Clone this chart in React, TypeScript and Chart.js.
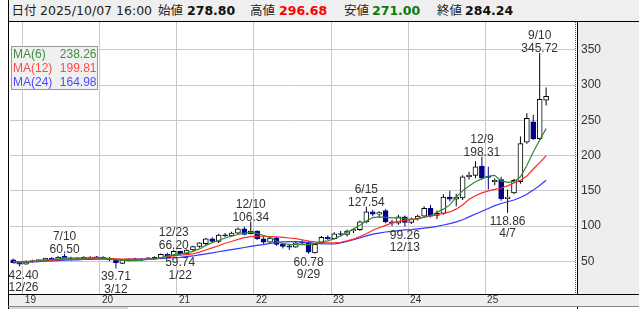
import React, { useEffect, useRef } from 'react';
import { Chart, registerables } from 'chart.js';

Chart.register(...registerables);

// ---- categories (monthly candles) ----
const months: string[] = [
  '2018/11', '2018/12',
  '2019/01', '2019/02', '2019/03', '2019/04', '2019/05', '2019/06', '2019/07', '2019/08', '2019/09', '2019/10', '2019/11', '2019/12',
  '2020/01', '2020/02', '2020/03', '2020/04', '2020/05', '2020/06', '2020/07', '2020/08', '2020/09', '2020/10', '2020/11', '2020/12',
  '2021/01', '2021/02', '2021/03', '2021/04', '2021/05', '2021/06', '2021/07', '2021/08', '2021/09', '2021/10', '2021/11', '2021/12',
  '2022/01', '2022/02', '2022/03', '2022/04', '2022/05', '2022/06', '2022/07', '2022/08', '2022/09', '2022/10', '2022/11', '2022/12',
  '2023/01', '2023/02', '2023/03', '2023/04', '2023/05', '2023/06', '2023/07', '2023/08', '2023/09', '2023/10', '2023/11', '2023/12',
  '2024/01', '2024/02', '2024/03', '2024/04', '2024/05', '2024/06', '2024/07', '2024/08', '2024/09', '2024/10', '2024/11', '2024/12',
  '2025/01', '2025/02', '2025/03', '2025/04', '2025/05', '2025/06', '2025/07', '2025/08', '2025/09', '2025/10',
];
const emptySlots = ['', ' ', '  ', '   '];

// ---- OHLC ----
const opens = [
  52, 48,
  46, 49.5, 51, 52, 54, 52, 57, 54.5, 53, 55, 54, 56,
  55, 54, 52, 47, 52, 53, 52, 53.5, 55, 54, 60, 58,
  64, 60.5, 66, 71, 75, 82, 78, 87, 86, 90, 96, 89,
  93, 82, 77, 83, 74, 72, 70, 77, 76, 62, 76, 84,
  82, 89, 88, 93, 95, 106, 120, 117, 122, 106, 104, 113,
  105, 110, 114, 125, 115, 118, 141, 138, 140, 170, 172, 185,
  170, 163, 166, 139, 147, 163, 219, 248, 224, 278.80,
];
const highs = [
  54, 50,
  51, 52, 53, 55, 56, 57, 60.5, 56.5, 56, 57, 57, 57.5,
  57, 56, 53, 53, 54, 55, 54, 56, 57, 61, 62, 66.2,
  65, 67, 72, 77, 83, 84, 89, 90, 92, 98, 99, 106.34,
  94, 85, 84, 85, 76, 75, 77, 80, 79, 75, 86, 87,
  91, 93, 95, 97, 108, 127.54, 123, 121, 124, 109, 116, 115,
  112, 116, 128, 130, 122, 145, 150, 146, 172, 177, 192, 198.31,
  184, 168, 170, 152, 167, 227, 260, 258, 345.72, 296.68,
];
const lows = [
  47, 42.4,
  45, 48, 49, 51, 51, 51, 55, 51, 52, 53, 53, 54,
  53, 50, 39.71, 46, 50, 51, 50, 52, 53, 53, 57, 57,
  59.74, 60, 64, 69, 73, 77, 76, 84, 85, 88, 87, 88,
  80, 74, 75, 72, 68, 66, 69, 74, 60.78, 61, 74, 80,
  81, 86, 85, 90, 93, 104, 114, 112, 104, 100, 102, 99.26,
  103, 108, 112, 112, 110, 116, 135, 128, 137, 166, 168, 166,
  152, 158, 136, 118.86, 145, 160, 217, 222, 222, 271.00,
];
const closes = [
  48, 46,
  49.5, 51, 52, 54, 52, 56, 54.5, 53, 55, 54, 56, 55,
  54, 52, 48, 52, 53, 52, 53.5, 55, 54, 60, 58, 64,
  60.5, 66, 71, 76, 82, 78, 87, 86, 90, 96, 88, 93,
  82, 77, 83, 74, 71, 70, 76, 75.5, 63, 74, 84, 82,
  89, 88, 93, 95, 106, 120, 117, 119, 106, 104, 113, 105,
  110, 114, 125, 114, 118, 141, 138, 141, 170, 172, 184, 168,
  169, 165, 139, 141, 165, 217, 253, 224, 280, 284.24,
];

// ---- moving averages ----
const ma6 = [
  50, 49,
  48.5, 49.5, 50.5, 51.5, 52.5, 53.5, 54.5, 54.5, 54.5, 54.5, 55, 55,
  54.5, 53.5, 52, 51.5, 51, 51, 51.5, 52.5, 53.5, 55, 57.5, 59.5,
  60, 62, 64, 67.5, 72.5, 76.5, 79.5, 83, 85.5, 88, 90, 91,
  89.5, 86.5, 84, 78.5, 75, 74, 73.5, 74, 73.5, 75, 77.5, 79,
  82, 86, 91, 96, 101, 107, 112, 113, 112.5, 111.5, 111.5, 110.5,
  109, 110, 112.5, 115, 119.5, 124, 130, 141, 150, 157, 163, 167,
  171, 172, 164, 162, 163, 170, 186, 205, 222, 238.26,
];
const ma12 = [
  49, 49.5,
  50, 50, 50.5, 51, 51.5, 52, 52.5, 53, 53, 53.5, 54, 54,
  54, 54, 53.5, 53, 53, 53, 52.5, 53, 53, 55, 56.5, 57.5,
  58.5, 59.5, 60.5, 63, 66, 69, 72, 75.5, 78, 81, 83.5, 85,
  85.5, 85.5, 85, 84.5, 84, 83, 82, 80.5, 78.5, 77.5, 76.5, 76,
  76, 77, 79, 81.5, 85, 89, 94, 97.5, 101, 104.5, 106.5, 108,
  109.5, 111, 112.5, 114, 116, 118, 120, 124, 130, 138, 143, 147,
  150, 152, 154, 157, 161, 165, 171, 181, 190, 199.81,
];
const ma24 = [
  47.5, 48,
  48.5, 49, 49.5, 50, 50.5, 51, 51.5, 52, 52, 52.5, 52.5, 53,
  53, 53, 52.5, 52.5, 52.5, 53, 53, 53, 53.5, 54, 54.5, 55,
  55.5, 56.5, 57.5, 59, 60.5, 62, 63.5, 65, 66.5, 68, 69.5, 71,
  72.5, 73.5, 75.5, 76.5, 77.5, 78, 78, 77.5, 76.5, 75.5, 75, 74.5,
  74.5, 76, 78, 80.5, 83, 86, 88.5, 90, 91.5, 92.5, 93.5, 94.5,
  95, 96, 97, 98, 99.5, 101.5, 103.5, 106, 109, 113, 117, 121,
  125, 129, 132, 134.5, 137, 140.5, 145, 151, 157.5, 164.98,
];

const maNames = ['MA(6)', 'MA(12)', 'MA(24)'];
const maLineColors = ['#2e8b2e', '#ff2a2a', '#3535ff'];
const maTextColors = ['#3f8f3f', '#ff4a4a', '#4a4aff'];

// ---- axis labels ----
const yearStarts = ['2019/01', '2020/01', '2021/01', '2022/01', '2023/01', '2024/01', '2025/01'];
const yearLabels = ['19', '20', '21', '22', '23', '24', '25'];
const yTicks = [50, 100, 150, 200, 250, 300, 350];

// ---- high / low markers ----
const highMarks = [
  { month: '2019/07', date: '7/10' },
  { month: '2020/12', date: '12/23' },
  { month: '2021/12', date: '12/10' },
  { month: '2023/06', date: '6/15' },
  { month: '2024/12', date: '12/9' },
  { month: '2025/09', date: '9/10' },
];
const lowMarks = [
  { month: '2018/12', date: '12/26' },
  { month: '2020/03', date: '3/12' },
  { month: '2021/01', date: '1/22' },
  { month: '2022/09', date: '9/29' },
  { month: '2023/12', date: '12/13' },
  { month: '2025/04', date: '4/7' },
];

const quoteDate = '2025/10/07 16:00';

const FONT = '"Liberation Sans", Arial, sans-serif';
const NAVY = '#00008b';

const extras = {
  id: 'extras',
  beforeDraw(chart: any) {
    const { ctx, chartArea: a } = chart;
    ctx.save();
    ctx.fillStyle = '#ffffff';
    ctx.fillRect(0, 0, chart.width, chart.height);
    ctx.fillStyle = '#eeeeee';
    ctx.fillRect(a.right + 2, a.top, 639 - a.right - 2, a.bottom - a.top);
    ctx.fillRect(9, a.bottom, 630, 12);
    ctx.fillStyle = '#d6d6d6';
    ctx.fillRect(9, a.bottom + 13, 119, 2);
    ctx.restore();
  },
  afterDraw(chart: any) {
    const { ctx, chartArea: a, scales } = chart;
    const xs = scales.x;
    const ys = scales.y;
    const line = (x1: number, y1: number, x2: number, y2: number) => {
      ctx.beginPath();
      ctx.moveTo(x1, y1);
      ctx.lineTo(x2, y2);
      ctx.stroke();
    };
    ctx.save();
    ctx.lineWidth = 1;
    ctx.strokeStyle = '#000';
    line(8.5, a.top, 8.5, chart.height);
    line(a.right + 2.5, a.top, a.right + 2.5, a.bottom);
    line(a.right + 2.5, a.bottom + 12, a.right + 2.5, chart.height);
    line(8, a.bottom + 0.5, 639, a.bottom + 0.5);
    ctx.strokeStyle = '#8a8a8a';
    line(8, a.bottom + 12.5, 639, a.bottom + 12.5);
    ctx.setLineDash([1, 1]);
    ctx.strokeStyle = '#555';
    line(a.right + 0.5, a.top, a.right + 0.5, a.bottom);
    ctx.setLineDash([]);

    // year labels
    const slot = xs.getPixelForValue(1) - xs.getPixelForValue(0);
    ctx.font = `10px ${FONT}`;
    ctx.fillStyle = '#333';
    ctx.textAlign = 'left';
    ctx.textBaseline = 'middle';
    yearStarts.forEach((m, k) => {
      const i = months.indexOf(m);
      const px = xs.getPixelForValue(i) - slot / 2;
      ctx.fillText(yearLabels[k], px + 2, a.bottom + 6.5);
    });

    // high/low markers
    ctx.font = `12px ${FONT}`;
    ctx.fillStyle = '#333';
    ctx.textAlign = 'center';
    ctx.textBaseline = 'alphabetic';
    const place = (px: number, w: number) => {
      let cx = px;
      if (cx - w / 2 < a.left - 1.5) cx = a.left - 1.5 + w / 2;
      if (cx + w / 2 > a.right - 1) cx = a.right - 1 - w / 2;
      return cx;
    };
    highMarks.forEach((mk) => {
      const i = months.indexOf(mk.month);
      const v = highs[i];
      const txt = v.toFixed(2);
      const w = Math.max(ctx.measureText(txt).width, ctx.measureText(mk.date).width);
      const cx = place(xs.getPixelForValue(i), w);
      const py = ys.getPixelForValue(v);
      ctx.fillText(txt, cx, py - 1);
      ctx.fillText(mk.date, cx, py - 13.5);
    });
    lowMarks.forEach((mk) => {
      const i = months.indexOf(mk.month);
      const v = lows[i];
      const txt = v.toFixed(2);
      const w = Math.max(ctx.measureText(txt).width, ctx.measureText(mk.date).width);
      const cx = place(xs.getPixelForValue(i), w);
      const py = ys.getPixelForValue(v);
      ctx.fillText(txt, cx, py + 12);
      ctx.fillText(mk.date, cx, py + 24.5);
    });

    // MA legend box
    const bx = 11.5, by = 46.5, bw = 86, bh = 43;
    ctx.fillStyle = '#f0f0f0';
    ctx.fillRect(bx, by, bw, bh);
    ctx.strokeStyle = '#9a9a9a';
    ctx.strokeRect(bx, by, bw, bh);
    const lastVals = [ma6[ma6.length - 1], ma12[ma12.length - 1], ma24[ma24.length - 1]];
    ctx.font = `12px ${FONT}`;
    ctx.textBaseline = 'middle';
    maNames.forEach((n, k) => {
      const yy = 54.5 + k * 14;
      ctx.fillStyle = maTextColors[k];
      ctx.textAlign = 'left';
      ctx.fillText(n, 13, yy);
      ctx.textAlign = 'right';
      ctx.fillText(lastVals[k].toFixed(2), 96.5, yy);
    });
    ctx.restore();
  },
};

export default function App() {
  const ref = useRef<HTMLCanvasElement | null>(null);

  useEffect(() => {
    const canvas = ref.current;
    if (!canvas) return;
    const labels = [...months, ...emptySlots];
    const up = closes.map((c, i) => c >= opens[i]);
    const chart = new Chart(canvas, {
      type: 'bar',
      data: {
        labels,
        datasets: [
          {
            type: 'line',
            data: ma6,
            borderColor: maLineColors[0],
            borderWidth: 1.2,
            pointRadius: 0,
            tension: 0,
            order: 0,
          } as any,
          {
            type: 'line',
            data: ma12,
            borderColor: maLineColors[1],
            borderWidth: 1.2,
            pointRadius: 0,
            tension: 0,
            order: 1,
          } as any,
          {
            type: 'line',
            data: ma24,
            borderColor: maLineColors[2],
            borderWidth: 1.2,
            pointRadius: 0,
            tension: 0,
            order: 2,
          } as any,
          {
            type: 'bar',
            data: opens.map((o, i) => [o, closes[i]]),
            backgroundColor: up.map((u) => (u ? '#ffffff' : NAVY)),
            borderColor: up.map((u) => (u ? '#000000' : NAVY)),
            borderWidth: 1,
            borderSkipped: false,
            barThickness: 5,
            minBarLength: 1,
            grouped: false,
            order: 3,
          } as any,
          {
            type: 'bar',
            data: lows.map((l, i) => [l, highs[i]]),
            backgroundColor: up.map((u) => (u ? '#000000' : NAVY)),
            borderWidth: 0,
            barThickness: 1,
            inflateAmount: 0,
            grouped: false,
            order: 4,
          } as any,
        ],
      },
      options: {
        animation: false,
        responsive: false,
        events: [],
        layout: { padding: { left: 10, right: 5, top: 22, bottom: 3 }, autoPadding: false },
        plugins: { legend: { display: false }, tooltip: { enabled: false } },
        scales: {
          x: {
            type: 'category',
            offset: true,
            grid: {
              offset: true,
              drawTicks: false,
              color: (c: any) => {
                const lab = labels[c.index];
                return lab && yearStarts.includes(lab) ? '#c8c8c8' : 'rgba(0,0,0,0)';
              },
            },
            border: { display: false },
            ticks: { display: false, autoSkip: false },
            afterFit: (s: any) => {
              s.height = 12;
            },
          },
          y: {
            type: 'linear',
            position: 'right',
            min: 3.5,
            max: 389.7,
            grid: {
              drawTicks: false,
              color: (c: any) => (c.tick && yTicks.includes(c.tick.value) ? '#c8c8c8' : 'rgba(0,0,0,0)'),
            },
            border: { display: false },
            ticks: {
              stepSize: 50,
              includeBounds: false,
              padding: 6,
              color: '#333',
              font: { family: FONT, size: 12 },
              callback: (v: any) => (yTicks.includes(Number(v)) ? String(v) : ''),
            },
            afterFit: (s: any) => {
              s.width = 64;
            },
          },
        },
      } as any,
      plugins: [extras],
    });
    return () => chart.destroy();
  }, []);

  const last = opens.length - 1;
  const headerItems = [
    { t: '日付', x: 11.5, b: false, c: '' },
    { t: quoteDate, x: 40, b: false, c: '' },
    { t: '始値', x: 158, b: false, c: '' },
    { t: opens[last].toFixed(2), x: 187, b: true, c: '#111' },
    { t: '高値', x: 250, b: false, c: '' },
    { t: highs[last].toFixed(2), x: 279, b: true, c: '#ff0000' },
    { t: '安値', x: 344, b: false, c: '' },
    { t: lows[last].toFixed(2), x: 372, b: true, c: '#0a7a0a' },
    { t: '終値', x: 437, b: false, c: '' },
    { t: closes[last].toFixed(2), x: 465, b: true, c: '#111' },
  ];

  return (
    <div style={{ position: 'fixed', left: 0, top: 0, width: 644, height: 309, background: '#fff', overflow: 'hidden' }}>
      <canvas ref={ref} width={644} height={309} style={{ position: 'absolute', left: 0, top: 0, width: 644, height: 309 }} />
      <div
        style={{
          position: 'absolute',
          left: 8,
          top: 0,
          width: 630,
          height: 21,
          background: '#efefef',
          borderLeft: '1px solid #000',
          borderBottom: '1px solid #000',
          fontFamily: '"DejaVu Sans", "Noto Sans CJK JP", sans-serif',
          fontSize: 12.5,
          color: '#222',
        }}
      >
        {headerItems.map((h, k) => (
          <span
            key={k}
            style={{
              position: 'absolute',
              left: h.x - 9,
              top: 0,
              lineHeight: '22px',
              whiteSpace: 'nowrap',
              fontWeight: h.b ? 700 : 400,
              color: h.c || '#222',
            }}
          >
            {h.t}
          </span>
        ))}
      </div>
    </div>
  );
}
